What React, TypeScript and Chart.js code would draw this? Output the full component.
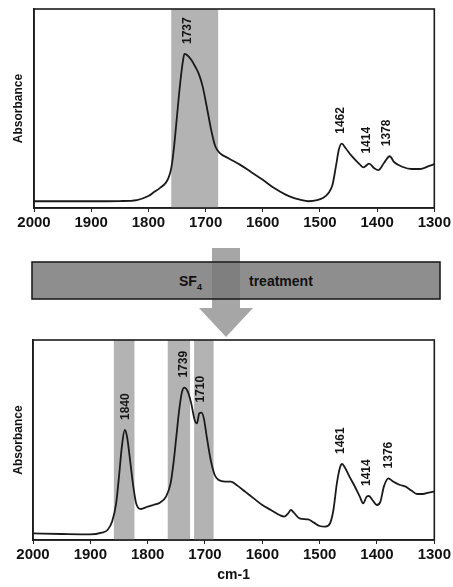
import React, { useEffect, useRef } from "react";
import { Chart, registerables } from "chart.js";

Chart.register(...registerables);

const FONT = "'Liberation Sans', Arial, Helvetica, sans-serif";

// ---- Data: top spectrum (before treatment) ----
const wnTop = [2000, 1900, 1850, 1820, 1800, 1790, 1780, 1770, 1765, 1760, 1755, 1750, 1745, 1740, 1737, 1733, 1725, 1718, 1712, 1705, 1698, 1690, 1683, 1675, 1660, 1640, 1620, 1600, 1580, 1560, 1545, 1535, 1520, 1505, 1495, 1485, 1478, 1472, 1467, 1462, 1455, 1445, 1430, 1424, 1414, 1405, 1398, 1388, 1378, 1370, 1355, 1340, 1325, 1310, 1300];
const absTop = [0.034, 0.034, 0.035, 0.04, 0.06, 0.08, 0.1, 0.125, 0.15, 0.2, 0.31, 0.46, 0.61, 0.73, 0.774, 0.77, 0.745, 0.71, 0.675, 0.61, 0.51, 0.39, 0.31, 0.276, 0.25, 0.218, 0.18, 0.142, 0.1, 0.067, 0.05, 0.042, 0.034, 0.039, 0.05, 0.075, 0.117, 0.21, 0.293, 0.323, 0.3, 0.263, 0.218, 0.204, 0.223, 0.2, 0.19, 0.226, 0.26, 0.23, 0.206, 0.196, 0.196, 0.21, 0.22];
const bandsTop = [[1760, 1678]];
const peakLabelsTop = ["1737", "1462", "1414", "1378"];
const peakWnTop = [1731, 1463, 1419, 1383];

// ---- Data: bottom spectrum (after SF4 treatment) ----
const wnBot = [2000, 1950, 1900, 1880, 1870, 1862, 1855, 1850, 1845, 1840, 1836, 1830, 1825, 1820, 1812, 1800, 1790, 1778, 1768, 1760, 1755, 1750, 1745, 1740, 1736, 1730, 1724, 1718, 1714, 1710, 1706, 1702, 1697, 1690, 1683, 1676, 1665, 1655, 1645, 1630, 1615, 1600, 1585, 1570, 1562, 1555, 1550, 1545, 1535, 1520, 1510, 1500, 1490, 1482, 1476, 1470, 1465, 1461, 1456, 1448, 1440, 1430, 1424, 1418, 1414, 1408, 1400, 1394, 1388, 1380, 1372, 1360, 1350, 1340, 1330, 1320, 1310, 1300];
const absBot = [0.033, 0.03, 0.028, 0.037, 0.05, 0.092, 0.183, 0.317, 0.467, 0.55, 0.517, 0.383, 0.267, 0.183, 0.155, 0.167, 0.175, 0.188, 0.217, 0.283, 0.383, 0.517, 0.65, 0.742, 0.762, 0.742, 0.683, 0.6, 0.583, 0.633, 0.637, 0.608, 0.517, 0.4, 0.325, 0.3, 0.292, 0.292, 0.275, 0.242, 0.208, 0.175, 0.15, 0.125, 0.117, 0.133, 0.15, 0.137, 0.108, 0.103, 0.087, 0.07, 0.067, 0.083, 0.15, 0.283, 0.358, 0.38, 0.363, 0.317, 0.275, 0.217, 0.183, 0.217, 0.22, 0.2, 0.175, 0.192, 0.267, 0.308, 0.292, 0.275, 0.267, 0.247, 0.23, 0.23, 0.237, 0.243];
const bandsBot = [[1859, 1823], [1765, 1726], [1719, 1685]];
const peakLabelsBot = ["1840", "1739", "1710", "1461", "1414", "1376"];
const peakWnBot = [1839, 1737, 1707, 1463, 1418, 1380];

const xMin = 1300;
const xMax = 2000;
const xStep = 100;
const yLabel = "Absorbance";
const xLabel = "cm-1";
const treatmentMain = "SF";
const treatmentSub = "4";
const treatmentWord = "treatment";

const decorPlugin = {
  id: "decor",
  beforeDatasetsDraw(chart: any, _args: any, opts: any) {
    const { ctx, chartArea: a, scales } = chart;
    const x = scales.x;
    ctx.save();
    ctx.fillStyle = "#b3b3b3";
    for (const [hi, lo] of opts.bands) {
      const x1 = x.getPixelForValue(hi);
      const x2 = x.getPixelForValue(lo);
      ctx.fillRect(Math.min(x1, x2), a.top, Math.abs(x2 - x1), a.bottom - a.top);
    }
    ctx.restore();
  },
  afterDatasetsDraw(chart: any, _args: any, opts: any) {
    const { ctx, chartArea: a, scales } = chart;
    const x = scales.x;
    const y = scales.y;
    ctx.save();
    ctx.strokeStyle = "#1c1c1c";
    ctx.lineWidth = 1.6;
    ctx.strokeRect(a.left, a.top, a.right - a.left, a.bottom - a.top);
    ctx.fillStyle = "#151515";
    ctx.font = `bold 12px ${FONT}`;
    ctx.textAlign = "left";
    ctx.textBaseline = "middle";
    const wn: number[] = opts.wn;
    const ab: number[] = opts.ab;
    opts.labels.forEach((txt: string, i: number) => {
      const w = opts.labelWn[i];
      let peak = 0;
      for (let k = 0; k < wn.length; k++) {
        if (Math.abs(wn[k] - w) <= 6 && ab[k] > peak) peak = ab[k];
      }
      const px = x.getPixelForValue(w);
      const py = y.getPixelForValue(peak) - 10;
      ctx.save();
      ctx.translate(px, py);
      ctx.rotate(-Math.PI / 2);
      ctx.fillText(txt, 0, 0);
      ctx.restore();
    });
    ctx.restore();
  },
};

type SpecProps = {
  wn: number[];
  ab: number[];
  bands: number[][];
  labels: string[];
  labelWn: number[];
  top: number;
  height: number;
  padTop: number;
  axisW: number;
  axisH: number;
  showXTitle: boolean;
};

function Spectrum(p: SpecProps) {
  const ref = useRef<HTMLCanvasElement>(null);
  useEffect(() => {
    if (!ref.current) return;
    const chart = new Chart(ref.current, {
      type: "line",
      data: {
        datasets: [
          {
            data: p.wn.map((w, i) => ({ x: w, y: p.ab[i] })),
            borderColor: "#1a1a1a",
            borderWidth: 1.8,
            pointRadius: 0,
            cubicInterpolationMode: "monotone",
            fill: false,
          },
        ],
      },
      options: {
        responsive: false,
        animation: false,
        layout: { padding: { top: p.padTop, right: 10, left: 0, bottom: 0 } },
        plugins: {
          legend: { display: false },
          tooltip: { enabled: false },
          decor: { bands: p.bands, labels: p.labels, labelWn: p.labelWn, wn: p.wn, ab: p.ab },
        } as any,
        scales: {
          x: {
            type: "linear",
            reverse: true,
            min: xMin,
            max: xMax,
            afterFit: (s: any) => {
              s.height = p.axisH;
            },
            ticks: {
              stepSize: xStep,
              color: "#111",
              font: { family: FONT, size: 15, weight: "bold" },
              padding: 2,
              maxRotation: 0,
              callback: (v: any) => String(v),
            },
            grid: {
              display: true,
              drawOnChartArea: false,
              drawTicks: true,
              tickLength: 4,
              color: "#222",
              lineWidth: 1,
            },
            border: { display: true, color: "#1c1c1c", width: 1.6 },
            title: {
              display: p.showXTitle,
              text: xLabel,
              color: "#111",
              font: { family: FONT, size: 14, weight: "bold" },
              padding: { top: 0, bottom: 3 },
            },
          },
          y: {
            min: 0,
            max: 1,
            afterFit: (s: any) => {
              s.width = p.axisW;
            },
            ticks: { display: false },
            grid: { display: false },
            border: { display: true, color: "#1c1c1c", width: 1.6 },
            title: {
              display: true,
              text: yLabel,
              color: "#111",
              font: { family: FONT, size: 12, weight: "bold" },
              padding: { top: 11, bottom: 0 },
            },
          },
        },
      },
      plugins: [decorPlugin as any],
    });
    return () => chart.destroy();
  }, []);
  return (
    <canvas
      ref={ref}
      width={453}
      height={p.height}
      style={{ position: "absolute", left: 0, top: p.top, width: 453, height: p.height, display: "block" }}
    />
  );
}

export default function App() {
  return (
    <div style={{ position: "absolute", left: 0, top: 0, width: 453, height: 587, background: "#fff", overflow: "hidden" }}>
      <Spectrum
        wn={wnTop}
        ab={absTop}
        bands={bandsTop}
        labels={peakLabelsTop}
        labelWn={peakWnTop}
        top={0}
        height={240}
        padTop={9}
        axisW={34}
        axisH={32}
        showXTitle={false}
      />
      <Spectrum
        wn={wnBot}
        ab={absBot}
        bands={bandsBot}
        labels={peakLabelsBot}
        labelWn={peakWnBot}
        top={330}
        height={257}
        padTop={10}
        axisW={33}
        axisH={47}
        showXTitle={true}
      />
      <svg
        width={453}
        height={587}
        style={{ position: "absolute", left: 0, top: 0, pointerEvents: "none" }}
      >
        <polygon points="212,248 240,248 240,308 253,308 226,337 199,308 212,308" fill="#a6a6a6" />
        <rect x={32} y={262} width={408} height={37} fill="#8e8e8e" stroke="#1e1e1e" strokeWidth={1.6} />
        <rect x={212} y={263} width={28} height={35} fill="#7f7f7f" />
        <text x={179} y={286} fontFamily={FONT} fontSize={14} fontWeight="bold" fill="#111">
          {treatmentMain}
          <tspan fontSize={9} dy={4}>{treatmentSub}</tspan>
        </text>
        <text x={249} y={286} fontFamily={FONT} fontSize={14} fontWeight="bold" fill="#111">
          {treatmentWord}
        </text>
      </svg>
    </div>
  );
}
